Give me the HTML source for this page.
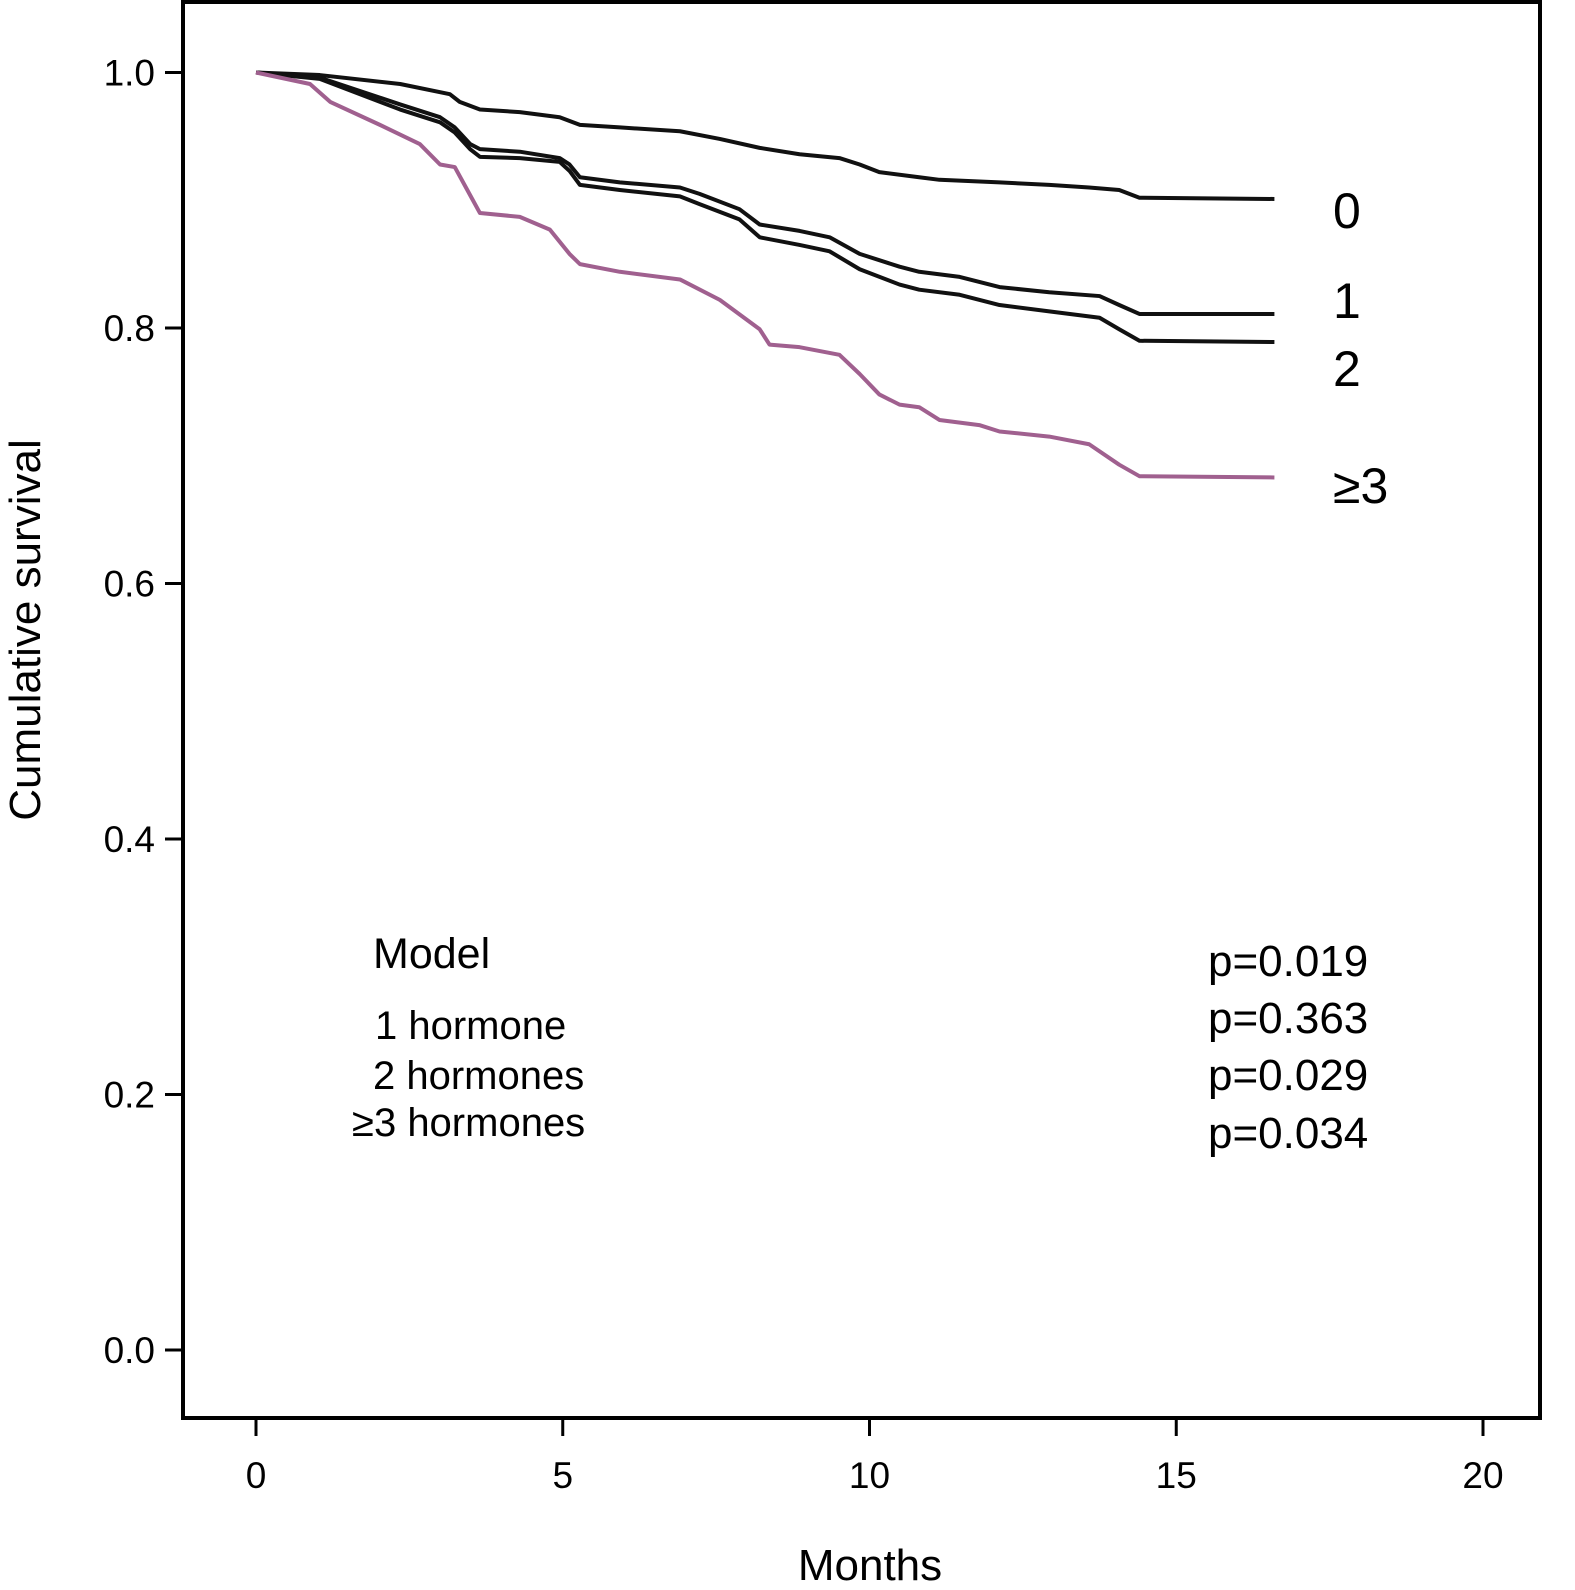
<!DOCTYPE html>
<html><head><meta charset="utf-8"><style>
body{margin:0;background:#fff}
svg text{font-family:"Liberation Sans",sans-serif;fill:#000}
</style></head><body>
<svg id="chart" width="1575" height="1585" xmlns="http://www.w3.org/2000/svg">
<rect x="183" y="2" width="1357" height="1416" fill="none" stroke="#000" stroke-width="4"/>
<g id="axes"></g>
<g id="series"></g>
<text transform="translate(40,630) rotate(-90)" text-anchor="middle" font-size="44">Cumulative survival</text>
<text x="870" y="1580" text-anchor="middle" font-size="44">Months</text>
<text x="1333" y="228" font-size="50">0</text>
<text x="1333" y="318" font-size="50">1</text>
<text x="1333" y="386" font-size="50">2</text>
<text x="1333" y="503" font-size="50">≥3</text>
<text x="373" y="968" font-size="43">Model</text>
<text x="375" y="1039" font-size="40">1 hormone</text>
<text x="373" y="1089" font-size="40">2 hormones</text>
<text x="352" y="1136" font-size="40">≥3 hormones</text>
<text x="1208" y="976" font-size="44">p=0.019</text>
<text x="1208" y="1033" font-size="44">p=0.363</text>
<text x="1208" y="1090" font-size="44">p=0.029</text>
<text x="1208" y="1148" font-size="44">p=0.034</text>
</svg>
<script>
const xTicks=[0,5,10,15,20];
const yTicks=[0,0.2,0.4,0.6,0.8,1.0];
const m0=[0,1.04,2.35,3.16,3.32,3.65,4.3,4.95,5.28,5.93,6.91,7.56,8.21,8.86,9.51,9.84,10.16,10.81,11.14,12.12,12.93,13.58,14.07,14.4,16.6];
const s0=[1,0.998,0.991,0.983,0.977,0.971,0.969,0.965,0.959,0.957,0.954,0.948,0.941,0.936,0.933,0.928,0.922,0.918,0.916,0.914,0.912,0.910,0.908,0.902,0.901];
const m1=[0,1.04,2.35,3.0,3.24,3.49,3.65,4.3,4.95,5.11,5.28,5.93,6.91,7.23,7.88,8.21,8.86,9.35,9.84,10.49,10.81,11.47,12.12,12.93,13.75,14.07,14.4,16.6];
const s1=[1,0.996,0.975,0.965,0.957,0.944,0.940,0.938,0.933,0.928,0.918,0.914,0.910,0.905,0.893,0.881,0.876,0.871,0.858,0.848,0.844,0.840,0.832,0.828,0.825,0.818,0.811,0.811];
const m2=[0,1.04,2.35,3.0,3.24,3.49,3.65,4.3,4.95,5.11,5.28,5.93,6.91,7.23,7.88,8.21,8.86,9.35,9.84,10.49,10.81,11.47,12.12,12.93,13.75,14.07,14.4,16.6];
const s2=[1,0.995,0.971,0.961,0.953,0.940,0.934,0.933,0.930,0.923,0.912,0.908,0.903,0.897,0.885,0.871,0.865,0.860,0.846,0.834,0.830,0.826,0.818,0.813,0.808,0.799,0.790,0.789];
const m3=[0,0.88,1.21,2.02,2.67,3.0,3.24,3.49,3.65,4.3,4.79,5.11,5.28,5.93,6.91,7.56,8.21,8.37,8.86,9.51,9.84,10.16,10.49,10.81,11.14,11.79,12.12,12.93,13.58,14.07,14.4,16.6];
const s3=[1,0.991,0.977,0.959,0.944,0.928,0.926,0.904,0.890,0.887,0.877,0.858,0.850,0.844,0.838,0.822,0.799,0.787,0.785,0.779,0.764,0.748,0.740,0.738,0.728,0.724,0.719,0.715,0.709,0.693,0.684,0.683];
const X=m=>256+m*61.35, Y=s=>1350-s*1277.5;
const NS="http://www.w3.org/2000/svg";
const ax=document.getElementById('axes'), sg=document.getElementById('series');
xTicks.forEach(t=>{
 const l=document.createElementNS(NS,'line');
 
 
 l.setAttribute('x1',X(t));l.setAttribute('x2',X(t));l.setAttribute('y1',1418);l.setAttribute('y2',1436);
 l.setAttribute('stroke','#000');l.setAttribute('stroke-width',3);ax.appendChild(l);
 const tx=document.createElementNS(NS,'text');
 
 
 tx.setAttribute('x',X(t));tx.setAttribute('y',1488);tx.setAttribute('text-anchor','middle');tx.setAttribute('font-size','37');
 tx.textContent=t;ax.appendChild(tx);
});
yTicks.forEach(t=>{
 const l=document.createElementNS(NS,'line');
 
 
 l.setAttribute('x1',165);l.setAttribute('x2',183);l.setAttribute('y1',Y(t));l.setAttribute('y2',Y(t));
 l.setAttribute('stroke','#000');l.setAttribute('stroke-width',3);ax.appendChild(l);
 const tx=document.createElementNS(NS,'text');
 
 
 tx.setAttribute('x',155);tx.setAttribute('y',Y(t)+13);tx.setAttribute('text-anchor','end');tx.setAttribute('font-size','37');
 tx.textContent=t.toFixed(1);ax.appendChild(tx);
});
[[m0,s0,'#111','curve-0'],[m1,s1,'#111','curve-1'],[m2,s2,'#111','curve-2'],[m3,s3,'#a0608f','curve-3plus']].forEach(([m,s,c,n])=>{
 const p=document.createElementNS(NS,'polyline');
 
 
 p.setAttribute('points',m.map((v,i)=>X(v)+','+Y(s[i])).join(' '));
 p.setAttribute('fill','none');p.setAttribute('stroke',c);p.setAttribute('stroke-width',4);p.setAttribute('stroke-linejoin','round');
 sg.appendChild(p);
});
</script>
</body></html>
